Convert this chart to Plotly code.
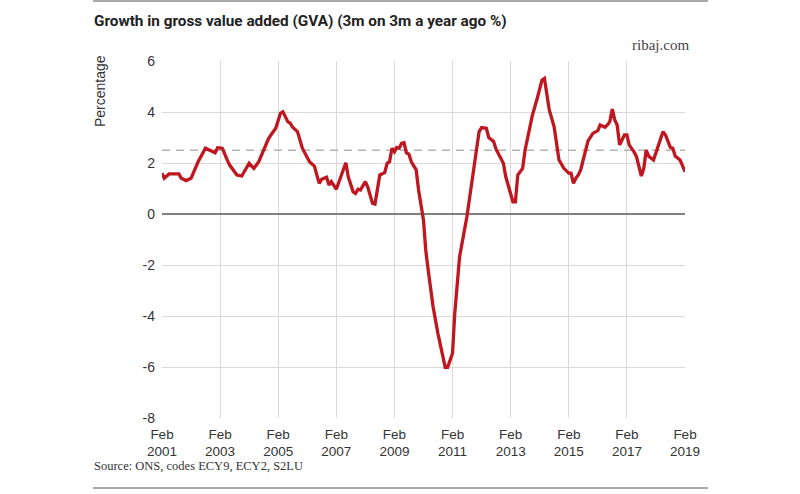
import plotly.graph_objects as go
import pandas as pd

# Month offsets from Feb 2001 and growth values (%)
month_idx = [0, 1, 3, 7, 8, 10, 12, 15, 18, 20, 22, 23, 25, 27, 28, 31, 33, 36, 38, 40,
             42, 43, 44, 45, 47, 49, 50, 52, 53, 54, 56, 58, 61, 63, 65, 66, 68, 69, 70, 72,
             74, 76, 77, 79, 80, 81, 82, 84, 85, 87, 88, 89, 90, 92, 93, 94, 95, 96, 97, 98,
             99, 100, 101, 102, 103, 105, 106, 108, 109, 110, 112, 114, 116, 117, 118, 120, 121, 123, 126, 128,
             130, 131, 132, 134, 135, 137, 138, 140, 141, 142, 144, 145, 146, 147, 149, 150, 152, 153, 155, 156,
             157, 158, 159, 160, 162, 163, 164, 166, 168, 169, 170, 171, 172, 173, 174, 176, 178, 180, 181, 183,
             184, 185, 186, 187, 188, 189, 190, 191, 192, 193, 195, 196, 198, 199, 200, 201, 203, 205, 207, 208,
             209, 210, 211, 212, 214, 215, 216]
gva_growth = [1.6, 1.4, 1.57, 1.57, 1.4, 1.31, 1.4, 2.05, 2.58, 2.5, 2.4, 2.6, 2.58, 2.12, 1.92, 1.53, 1.49, 1.99, 1.79, 2.05,
              2.5, 2.8, 2.95, 3.1, 3.36, 3.95, 4.01, 3.62, 3.56, 3.4, 3.23, 2.58, 2.05, 1.88, 1.2, 1.36, 1.44, 1.14, 1.27, 0.97,
              1.53, 2.01, 1.46, 0.87, 0.81, 0.97, 0.94, 1.27, 1.07, 0.42, 0.39, 1.0, 1.53, 1.62, 1.99, 2.05, 2.58, 2.44, 2.61, 2.58,
              2.77, 2.8, 2.4, 2.35, 2.05, 1.73, 0.94, -0.24, -1.41, -2.2, -3.63, -4.68, -5.6, -6.01, -6.01, -5.46, -3.89, -1.67, -0.1, 1.2,
              2.51, 3.23, 3.39, 3.36, 3.0, 2.84, 2.54, 2.15, 1.99, 1.46, 0.81, 0.48, 0.48, 1.53, 1.79, 2.51, 3.42, 3.88, 4.54, 4.93,
              5.25, 5.32, 4.73, 4.08, 3.42, 2.77, 2.12, 1.79, 1.6, 1.6, 1.2, 1.4, 1.53, 1.73, 2.12, 2.87, 3.16, 3.27, 3.49, 3.4,
              3.49, 3.62, 4.11, 3.69, 3.49, 2.71, 2.9, 3.1, 3.1, 2.71, 2.44, 2.25, 1.49, 1.79, 2.51, 2.27, 2.12, 2.71, 3.23, 3.1,
              2.84, 2.61, 2.58, 2.27, 2.12, 1.92, 1.66]
long_run_average = 2.5

tick_years = [2001, 2003, 2005, 2007, 2009, 2011, 2013, 2015, 2017, 2019]
tick_labels = [f"Feb<br>{y}" for y in tick_years]
y_ticks = [-8, -6, -4, -2, 0, 2, 4, 6]
y_tick_labels = [str(v) for v in y_ticks]

start = pd.Timestamp("2001-02-01")
dates = [start + pd.DateOffset(months=m) for m in month_idx]
tick_vals = [pd.Timestamp(f"{y}-02-01") for y in tick_years]

fig = go.Figure()
fig.add_trace(go.Scatter(
    x=[tick_vals[0], tick_vals[-1]], y=[long_run_average, long_run_average],
    mode="lines", line=dict(color="#b3b3b3", width=1.5, dash="8px,6px"),
    hoverinfo="skip", showlegend=False))
fig.add_trace(go.Scatter(
    x=dates, y=gva_growth, mode="lines",
    line=dict(color="#c0161f", width=3.3, shape="linear"),
    showlegend=False))

tick_font = dict(family="Liberation Sans, Arial, sans-serif", size=13.5, color="#333333")

fig.update_layout(
    width=800, height=494,
    margin=dict(l=162, r=115, t=61, b=76, autoexpand=False),
    paper_bgcolor="white", plot_bgcolor="white",
    xaxis=dict(range=[tick_vals[0], tick_vals[-1]], tickvals=tick_vals, ticktext=tick_labels,
               showgrid=True, gridcolor="#d9d9d9", gridwidth=1, zeroline=False, automargin=False,
               showline=False, ticks="", tickfont=tick_font, ticklabelstandoff=6),
    yaxis=dict(range=[-8, 6], tickvals=y_ticks, ticktext=y_tick_labels, automargin=False,
               showgrid=True, gridcolor="#d9d9d9", gridwidth=1,
               zeroline=True, zerolinecolor="#808080", zerolinewidth=1.5,
               showline=False, ticks="", tickfont=dict(tick_font, size=14), ticklabelstandoff=6),
    font=dict(family="Liberation Sans, Arial, sans-serif"),
)

def px_x(p):
    return (p - 162) / 523

def px_y(p):
    return (418 - p) / 357

# rules
for yy in (1, 488):
    fig.add_shape(type="line", xref="paper", yref="paper",
                  x0=px_x(93), x1=px_x(708), y0=px_y(yy), y1=px_y(yy),
                  line=dict(color="#8c8c8c", width=1.5))

fig.add_annotation(xref="paper", yref="paper", x=px_x(92), y=px_y(21), xanchor="left", yanchor="middle",
                   text="<b>Growth in gross value added (GVA) (3m on 3m a year ago %)</b>", showarrow=False,
                   font=dict(family="Roboto, sans-serif", size=15.3, color="#222222"))
fig.add_annotation(xref="paper", yref="paper", x=px_x(691), y=px_y(45), xanchor="right", yanchor="middle",
                   text="ribaj.com", showarrow=False,
                   font=dict(family="Liberation Serif, serif", size=15, color="#444444"))
fig.add_annotation(xref="paper", yref="paper", x=px_x(92), y=px_y(466), xanchor="left", yanchor="middle",
                   text="Source: ONS, codes ECY9, ECY2, S2LU", showarrow=False,
                   font=dict(family="Liberation Serif, serif", size=12.5, color="#333333"))
fig.add_annotation(xref="paper", yref="paper", x=px_x(100), y=px_y(91), xanchor="center", yanchor="middle",
                   text="Percentage", textangle=-90, showarrow=False,
                   font=dict(family="Liberation Sans, Arial, sans-serif", size=14, color="#333333"))

fig.write_html("out.html", config={"displayModeBar": False},
               post_script="document.body.style.margin='0';")
